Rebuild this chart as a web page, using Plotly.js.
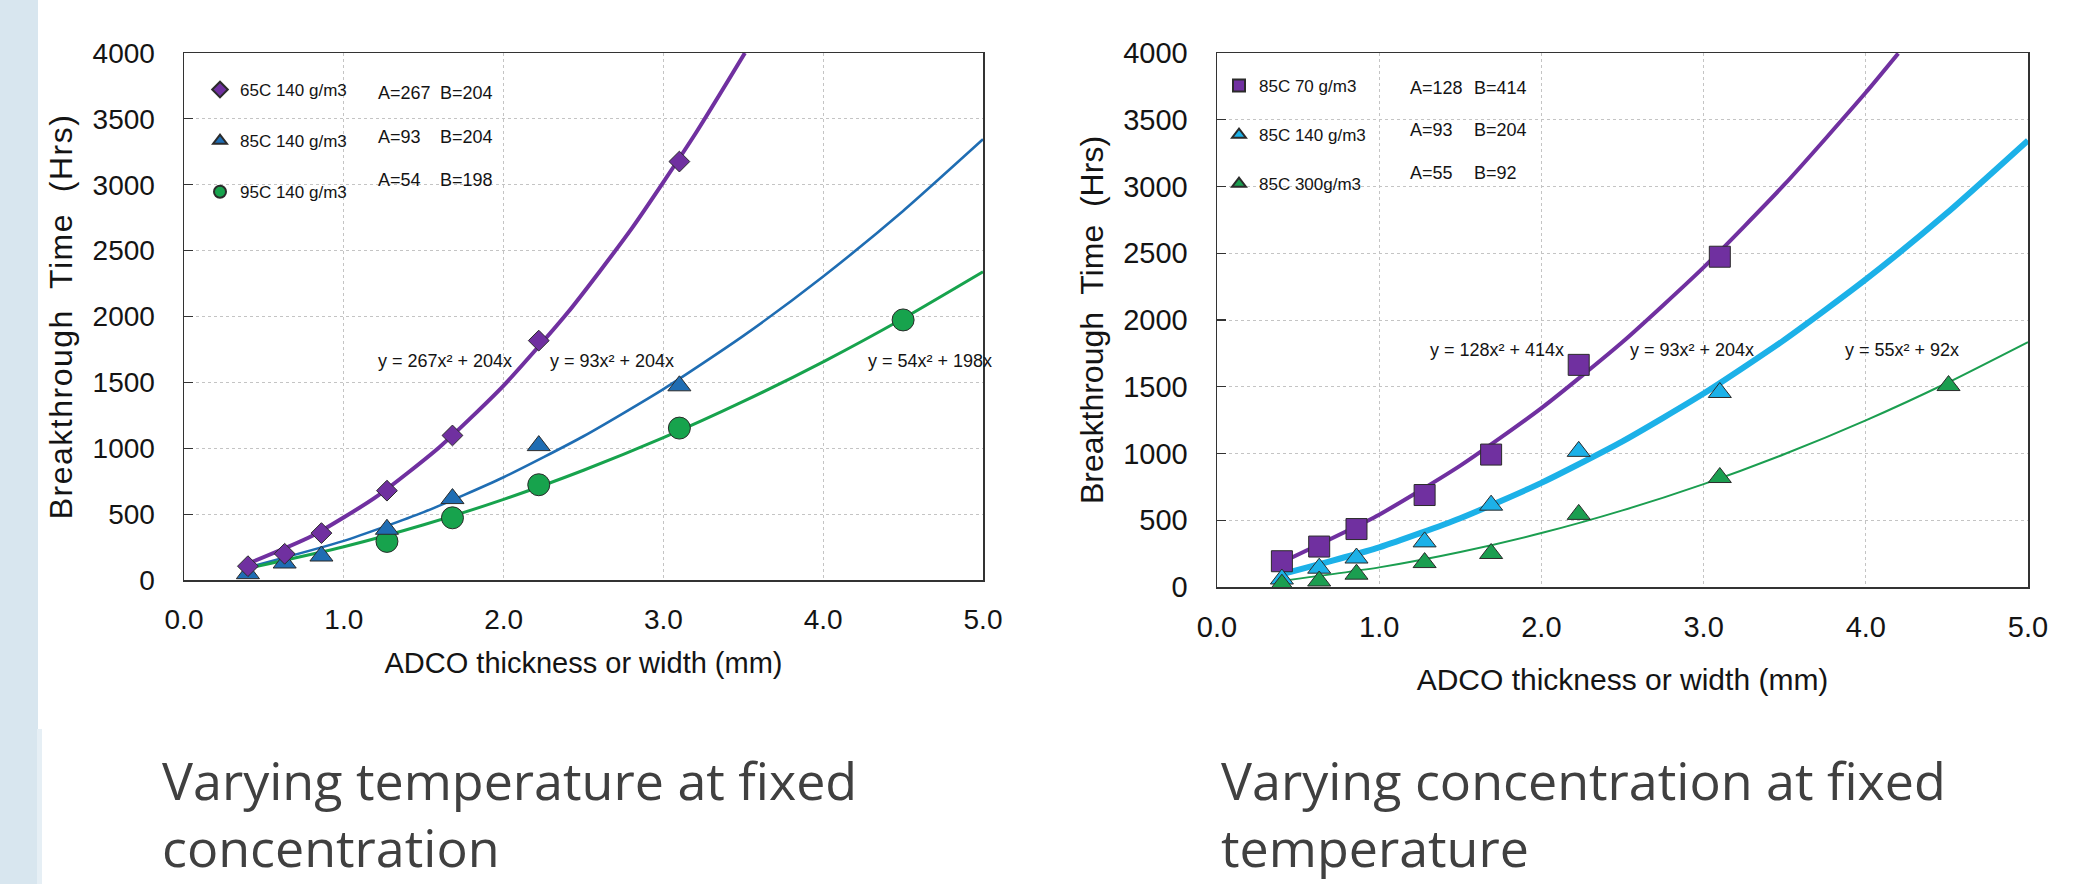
<!DOCTYPE html>
<html>
<head>
<meta charset="utf-8">
<script src="https://cdn.plot.ly/plotly-3.0.1.min.js"></script>
<style>
  html, body { margin: 0; padding: 0; background: #ffffff; }
  #chart { width: 2096px; height: 884px; }
  #chart .ytitle { letter-spacing: 1.5px; }
</style>
</head>
<body>
<div id="chart"></div>
<script>
// ---------------- DATA ----------------
// Left chart: varying temperature at fixed concentration (140 g/m3)
const leftNames = ["65C 140 g/m3", "85C 140 g/m3", "95C 140 g/m3"];
const leftA = [267, 93, 54];
const leftB = [204, 204, 198];

const left65X = [0.40, 0.63, 0.86, 1.27, 1.68, 2.22, 3.10];
const left65Y = [105, 199, 356, 678, 1097, 1817, 3176];
const left85X = [0.40, 0.63, 0.86, 1.27, 1.68, 2.22, 3.10];
const left85Y = [48, 129, 182, 385, 618, 1020, 1474];
const left95X = [1.27, 1.68, 2.22, 3.10, 4.50];
const left95Y = [293, 472, 723, 1153, 1974];

// fitted trend curves as traced on the picture
const left65FitX = [0.40, 0.80, 1.20, 1.60, 2.00, 2.40, 2.80, 3.20, 3.51];
const left65FitY = [124, 334, 629, 1010, 1476, 2028, 2665, 3387, 4000];
const left85FitX = [0.40, 1.00, 1.50, 2.00, 2.50, 3.00, 3.50, 4.00, 4.50, 5.00];
const left85FitY = [96, 297, 515, 780, 1091, 1449, 1853, 2304, 2801, 3345];
const left95FitX = [0.40, 1.00, 1.50, 2.00, 2.50, 3.00, 3.50, 4.00, 4.50, 5.00];
const left95FitY = [88, 252, 419, 612, 833, 1080, 1355, 1656, 1985, 2340];

// Right chart: varying concentration at fixed temperature (85C)
const rightNames = ["85C 70 g/m3", "85C 140 g/m3", "85C 300g/m3"];
const rightA = [128, 93, 55];
const rightB = [414, 204, 92];

const right70X = [0.40, 0.63, 0.86, 1.28, 1.69, 2.23, 3.10];
const right70Y = [193, 303, 434, 689, 992, 1664, 2474];
const right140X = [0.40, 0.63, 0.86, 1.28, 1.69, 2.23, 3.10];
const right140Y = [60, 141, 217, 338, 613, 1016, 1457];
const right300X = [0.40, 0.63, 0.86, 1.28, 1.69, 2.23, 3.10, 4.51];
const right300Y = [21, 45, 96, 183, 251, 544, 820, 1509];

const right70FitX = [0.40, 1.00, 1.50, 2.00, 2.50, 3.00, 3.50, 4.00, 4.20];
const right70FitY = [186, 542, 909, 1340, 1835, 2394, 3017, 3704, 3997];
const right140FitX = [0.40, 1.00, 1.50, 2.00, 2.50, 3.00, 3.50, 4.00, 4.50, 5.00];
const right140FitY = [96, 297, 515, 780, 1091, 1449, 1853, 2304, 2801, 3345];
const right300FitX = [0.40, 1.00, 1.50, 2.00, 2.50, 3.00, 3.50, 4.00, 4.50, 5.00];
const right300FitY = [46, 147, 262, 404, 574, 771, 996, 1248, 1528, 1835];

// Texts
const xTickVals = [0, 1, 2, 3, 4, 5];
const xTickText = ["0.0", "1.0", "2.0", "3.0", "4.0", "5.0"];
const xTitle = "ADCO thickness or width (mm)";
const yTitle = "Breakthrough  Time  (Hrs)";
const captionLeft = ["Varying temperature at fixed", "concentration"];
const captionRight = ["Varying concentration at fixed", "temperature"];

// ---------------- STYLE / LAYOUT ----------------
const W = 2096, H = 884;
const px = v => v / W;
const py = v => 1 - v / H;

const PURPLE = "#7030a0";
const BLUE = "#1f6db3";
const CYAN = "#1cb1e8";
const GREEN = "#17a34d";
const GREEN2 = "#1b9e50";
const OUTLINE = "#2b2b2b";
const TXT = "#141414";

function line(x, y, color, width, xa, ya) {
  return { x, y, type: "scatter", mode: "lines", xaxis: xa, yaxis: ya,
    line: { color, width, shape: "spline", smoothing: 0.6 }, showlegend: false, hoverinfo: "skip" };
}
function pts(x, y, name, symbol, size, color, xa, ya, legend, rank) {
  return { x, y, name, type: "scatter", mode: "markers", xaxis: xa, yaxis: ya,
    legend, legendgroup: legend + "_" + rank, legendrank: rank, showlegend: true,
    marker: { symbol, size, color, line: { color: OUTLINE, width: 1 } } };
}

const data = [
  line(left65FitX, left65FitY, PURPLE, 4, "x", "y"),
  line(left85FitX, left85FitY, BLUE, 2.6, "x", "y"),
  line(left95FitX, left95FitY, GREEN, 3, "x", "y"),
  pts(left95X, left95Y, leftNames[2], "circle", 22, GREEN, "x", "y", "legend", 3),
  pts(left85X, left85Y, leftNames[1], "triangle-up", 20, BLUE, "x", "y", "legend", 2),
  pts(left65X, left65Y, leftNames[0], "diamond", 16, PURPLE, "x", "y", "legend", 1),

  line(right300FitX, right300FitY, GREEN2, 2, "x2", "y2"),
  line(right140FitX, right140FitY, CYAN, 6, "x2", "y2"),
  line(right70FitX, right70FitY, PURPLE, 4, "x2", "y2"),
  pts(right70X, right70Y, rightNames[0], "square", 21, PURPLE, "x2", "y2", "legend2", 1),
  pts(right140X, right140Y, rightNames[1], "triangle-up", 20, CYAN, "x2", "y2", "legend2", 2),
  pts(right300X, right300Y, rightNames[2], "triangle-up", 20, GREEN2, "x2", "y2", "legend2", 3),
];

function xAxis(domain, anchor, fs, standoff) {
  return {
    domain, anchor, range: [0, 5], tickvals: xTickVals, ticktext: xTickText,
    showgrid: true, gridcolor: "#c4c4c4", griddash: "dot", gridwidth: 1,
    zeroline: false, showline: true, linecolor: "#333333", linewidth: 1.5, mirror: true,
    ticks: "", tickfont: { size: fs, color: TXT }, ticklabelstandoff: 14,
    title: { text: xTitle, font: { size: fs + 1, color: TXT }, standoff },
    fixedrange: true
  };
}
function yAxis(domain, anchor, fs) {
  return {
    domain, anchor, range: [0, 4000], dtick: 500,
    showgrid: true, gridcolor: "#c4c4c4", griddash: "dot", gridwidth: 1,
    zeroline: false, showline: true, linecolor: "#333333", linewidth: 1.5, mirror: true,
    ticks: "inside", ticklen: 9, tickcolor: "#333333", tickwidth: 1.2,
    tickfont: { size: fs, color: TXT }, ticklabelstandoff: 22,
    title: { text: yTitle, font: { size: 32, color: TXT }, standoff: 10 },
    fixedrange: true
  };
}

const annotations = [];
function addAB(A, B, xA, xB, ys) {
  for (let i = 0; i < A.length; i++) {
    annotations.push({ xref: "paper", yref: "paper", x: px(xA), y: py(ys[i]), xanchor: "left", yanchor: "middle",
      text: "A=" + A[i], showarrow: false, font: { size: 18, color: TXT } });
    annotations.push({ xref: "paper", yref: "paper", x: px(xB), y: py(ys[i]), xanchor: "left", yanchor: "middle",
      text: "B=" + B[i], showarrow: false, font: { size: 18, color: TXT } });
  }
}
function addEq(A, B, xs, y) {
  for (let i = 0; i < A.length; i++) {
    annotations.push({ xref: "paper", yref: "paper", x: px(xs[i]), y: py(y), xanchor: "left", yanchor: "middle",
      text: "y = " + A[i] + "x\u00B2 + " + B[i] + "x", showarrow: false, font: { size: 18, color: TXT } });
  }
}
addAB(leftA, leftB, 376, 438, [93, 137, 180]);
addAB(rightA, rightB, 1408, 1472, [88, 130, 173]);
addEq(leftA, leftB, [376, 548, 866], 361);
addEq(rightA, rightB, [1428, 1628, 1843], 350);

function addCaption(lines, x) {
  lines.forEach((t, i) => {
    annotations.push({ xref: "paper", yref: "paper", x: px(x), y: py(779 + i * 67), xanchor: "left", yanchor: "middle", align: "left",
      text: t, showarrow: false, font: { family: "Open Sans", size: 52, color: "#404040" } });
  });
}
addCaption(captionLeft, 160);
addCaption(captionRight, 1219);

const legendBase = { bgcolor: "rgba(0,0,0,0)", borderwidth: 0, font: { size: 17, color: TXT },
  itemsizing: "constant", xanchor: "left", yanchor: "top", traceorder: "grouped" };

const layout = {
  width: W, height: H,
  margin: { l: 0, r: 0, t: 0, b: 0 },
  paper_bgcolor: "#ffffff", plot_bgcolor: "#ffffff",
  font: { family: "Liberation Sans, Arial, sans-serif", color: TXT },
  xaxis: xAxis([px(184), px(983)], "y", 28, 18),
  yaxis: yAxis([py(580), py(53)], "x", 28),
  xaxis2: xAxis([px(1217), px(2028)], "y2", 29, 26),
  yaxis2: yAxis([py(587), py(53)], "x2", 29),
  legend: Object.assign({}, legendBase, { x: px(200), y: py(72), tracegroupgap: 26 }),
  legend2: Object.assign({}, legendBase, { x: px(1219), y: py(68), tracegroupgap: 24 }),
  annotations,
  shapes: [
    { type: "rect", xref: "paper", yref: "paper", x0: 0, x1: px(38), y0: 0, y1: 1, line: { width: 0 }, fillcolor: "#d8e6ef", layer: "below" },
    { type: "rect", xref: "paper", yref: "paper", x0: px(37), x1: px(42), y0: 0, y1: py(729), line: { width: 0 }, fillcolor: "#e6eff5", layer: "below" }
  ],
  showlegend: true
};

Plotly.newPlot("chart", data, layout, { displayModeBar: false, staticPlot: true });
</script>
</body>
</html>
